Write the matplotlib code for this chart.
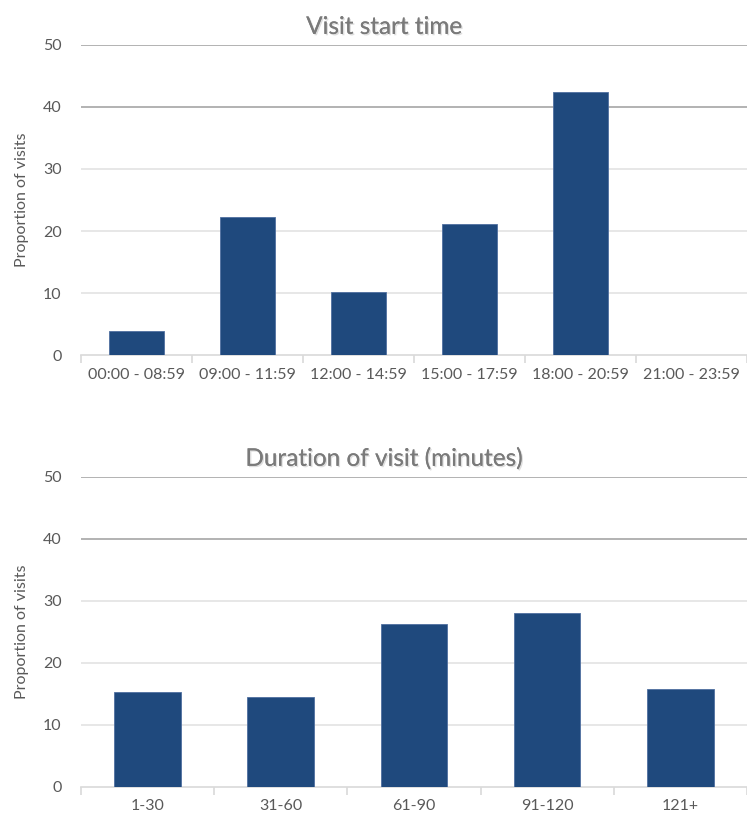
import numpy as np
import matplotlib.pyplot as plt
import matplotlib.patheffects as pe

plt.rcParams['font.family'] = ['Lato', 'DejaVu Sans']

# Data
time_labels = ['00:00 - 08:59', '09:00 - 11:59', '12:00 - 14:59',
               '15:00 - 17:59', '18:00 - 20:59', '21:00 - 23:59']
time_values = [3.9, 22.3, 10.2, 21.1, 42.4, 0]

dur_labels = ['1-30', '31-60', '61-90', '91-120', '121+']
dur_values = [15.3, 14.5, 26.3, 28.1, 15.8]

bar_color = '#1f497d'
text_color = '#595959'


def draw(ax, labels, values, title):
    x = np.arange(len(labels))
    ax.bar(x, values, width=0.5, color=bar_color, edgecolor='#4f6fa0', linewidth=0.6, zorder=3)
    ax.set_xlim(-0.5, len(labels) - 0.5)
    ax.set_ylim(0, 50)
    ax.set_yticks(range(0, 51, 10))
    for v in range(10, 51, 10):
        c = '#a6a6a6' if v >= 40 else '#e3e3e3'
        ax.axhline(v, color=c, linewidth=1.2, zorder=1)
    ax.set_xticks(x)
    ax.set_xticklabels(labels)
    ax.set_xticks(np.arange(-0.5, len(labels)), minor=True)
    ax.tick_params(axis='x', which='major', length=0, pad=9, labelsize=11.5, colors=text_color)
    ax.tick_params(axis='x', which='minor', length=6, color='#d9d9d9', width=1.2)
    ax.tick_params(axis='y', length=0, pad=14, labelsize=11.5, colors=text_color)
    for s in ['top', 'right', 'left']:
        ax.spines[s].set_visible(False)
    ax.spines['bottom'].set_color('#d9d9d9')
    ax.spines['bottom'].set_linewidth(1.2)
    ax.set_ylabel('Proportion of visits', fontsize=11.5, color=text_color, labelpad=10)
    t = ax.set_title(title, fontsize=17.5, color='#7a7a7a', pad=8, x=0.455)
    t.set_path_effects([pe.withSimplePatchShadow(offset=(1, -1), shadow_rgbFace='#c8c8c8', alpha=0.6), pe.Normal()])


fig = plt.figure(figsize=(7.47, 8.18), dpi=100)
ax1 = fig.add_axes([0.1084, 0.566, 0.8916, 0.379])
ax2 = fig.add_axes([0.1084, 0.038, 0.8916, 0.379])

draw(ax1, time_labels, time_values, 'Visit start time')
draw(ax2, dur_labels, dur_values, 'Duration of visit (minutes)')

fig.savefig('out.png', dpi=100)
